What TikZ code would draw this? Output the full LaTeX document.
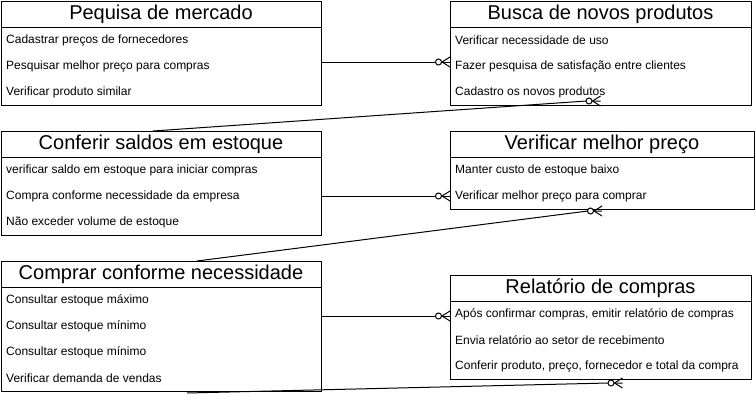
\documentclass[tikz,border=0pt]{standalone}
\usepackage{fontspec}
\setmainfont{Liberation Sans}
\usetikzlibrary{positioning}
\tikzstyle{diagram} = [x = 1pt, y = -1pt]
\tikzstyle{entityHead} = [draw=black, line width=1pt, anchor=north west, minimum height=26, inner sep=0pt, outer sep=0pt, font=\fontsize{20}{24}\selectfont]
\tikzstyle{entityBody} = [draw=black, line width=1pt, inner sep=0pt, outer sep=0pt]
\tikzstyle{entityRow} = [anchor=west, inner sep=0pt, font=\fontsize{12}{14}\selectfont]
\tikzstyle{relationLine} = [draw=black, line width=1pt]
\tikzstyle{crowCircle} = [draw=black, fill=white, line width=1pt]
\newcommand{\entity}[7]{
  \node [entityHead, minimum width = #4] (#1) at (#2, #3) {#6};
  \node [entityBody, minimum width = #4, minimum height = 26 * #5, below = 0pt of #1] (#1-body) {};
  \foreach \rowText [count = \rowIndex] in {#7} {
    \node [entityRow] (#1-\rowIndex) at (#2 + 5, #3 + 13 + 26 * \rowIndex) {\rowText};
  }
}
\newcommand{\crowFoot}[1]{
  \draw [relationLine] ([xshift = -8] #1) -- ([yshift = 5] #1);
  \draw [relationLine] ([xshift = -8] #1) -- ([yshift = -5] #1);
  \filldraw [crowCircle] ([xshift = -11.5] #1) circle (3pt);
}
\begin{document}
\begin{tikzpicture}[diagram]
\useasboundingbox (0,0) rectangle (756,402);
\entity{pesquisa}{1}{1}{320}{3}{Pequisa de mercado}{Cadastrar preços de fornecedores, Pesquisar melhor preço para compras, Verificar produto similar}
\entity{busca}{450}{1}{301}{3}{Busca de novos produtos}{Verificar necessidade de uso, Fazer pesquisa de satisfação entre clientes, Cadastro os novos produtos}
\entity{conferir}{1}{131}{320}{3}{Conferir saldos em estoque}{verificar saldo em estoque para iniciar compras, Compra conforme necessidade da empresa, Não exceder volume de estoque}
\entity{verificar}{450}{131}{304}{2}{Verificar melhor preço}{Manter custo de estoque baixo, Verificar melhor preço para comprar}
\entity{comprar}{1}{261}{320}{4}{Comprar conforme necessidade}{Consultar estoque máximo, Consultar estoque mínimo, Consultar estoque mínimo, Verificar demanda de vendas}
\entity{relatorio}{450}{275}{301}{3}{Relatório de compras}{{Após confirmar compras, emitir relatório de compras}, Envia relatório ao setor de recebimento, {Conferir produto, preço, fornecedor e total da compra}}
        \coordinate (pesquisaOut) at ([yshift = 4] pesquisa-body.east);
        \draw [relationLine] (pesquisaOut) -- (pesquisaOut -| busca-body.west) coordinate (buscaIn);
        \crowFoot{buscaIn}
        \coordinate (conferirTop) at ([xshift = -8] conferir.north);
        \coordinate (buscaBottom) at ([yshift = 4] busca-body.south);
        \draw [relationLine] (conferirTop) -- ([xshift = -14] buscaBottom) -- (buscaBottom);
        \crowFoot{buscaBottom}
        \draw [relationLine] (conferir-body.east) -- (conferir-body.east -| verificar-body.west) coordinate (verificarIn);
        \crowFoot{verificarIn}
        \coordinate (comprarTop) at ([xshift = 36] comprar.north);
        \coordinate (verificarBottom) at ([yshift = -2] verificar-body.south);
        \draw [relationLine] (comprarTop) -- ([xshift = -14] verificarBottom) -- (verificarBottom);
        \crowFoot{verificarBottom}
        \coordinate (comprarOut) at ([yshift = 23] comprar-body.east);
        \draw [relationLine] (comprarOut) -- (comprarOut -| relatorio-body.west) coordinate (relatorioIn);
        \crowFoot{relatorioIn}
        \coordinate (comprarBottom) at ([xshift = 26, yshift = -2] comprar-body.south);
        \coordinate (relatorioBottom) at ([xshift = 22, yshift = -4] relatorio-body.south);
        \draw [relationLine] (comprarBottom) -- ([xshift = -14] relatorioBottom) -- (relatorioBottom);
        \crowFoot{relatorioBottom}
\end{tikzpicture}
\end{document}
